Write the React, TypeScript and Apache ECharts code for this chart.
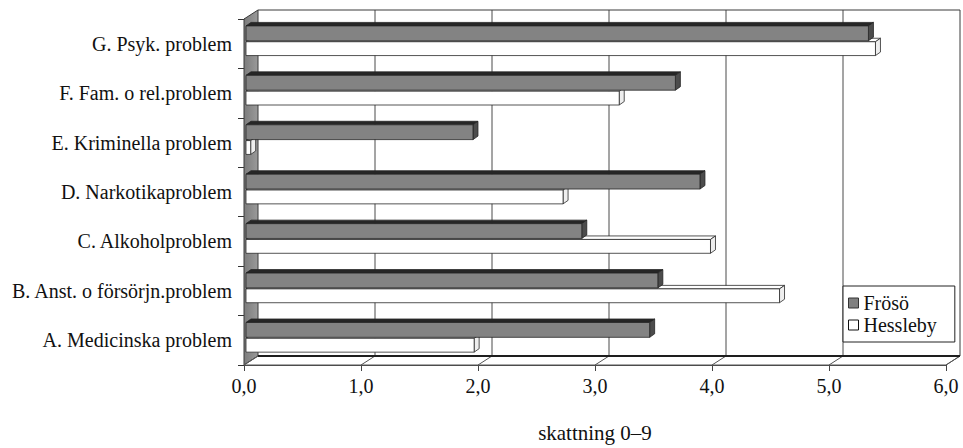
import { useEffect, useRef } from "react";
import * as echarts from "echarts";

// Problem areas, bottom to top
const categories = [
  "A. Medicinska problem",
  "B. Anst. o försörjn.problem",
  "C. Alkoholproblem",
  "D. Narkotikaproblem",
  "E. Kriminella problem",
  "F. Fam. o rel.problem",
  "G. Psyk. problem",
];
const frosoValues = [3.45, 3.52, 2.87, 3.88, 1.94, 3.67, 5.32];
const hesslebyValues = [1.95, 4.56, 3.97, 2.71, 0.04, 3.19, 5.38];
const xTicks = [0, 1, 2, 3, 4, 5, 6];
const xAxisTitle = "skattning 0–9";
const seriesNames = ["Frösö", "Hessleby"];

const FONT = "Liberation Serif";
// projection of the chart's depth (front plane -> back wall)
const DX = 14;
const DY = -9;
// projection of a single bar's depth
const BDX = 5;
const BDY = -3.5;

const frameRenderer = (params: any, api: any) => {
  const cs = params.coordSys;
  const L = cs.x;
  const T = cs.y;
  const R = cs.x + cs.width;
  const B = cs.y + cs.height;
  const children: any[] = [];
  // back wall
  children.push({
    type: "rect",
    shape: { x: L + DX, y: T + DY, width: R - L, height: B - T },
    style: { fill: "#ffffff" },
  });
  // vertical gridlines on the back wall
  xTicks.slice(1, -1).forEach((t) => {
    const x = api.coord([t, 0])[0] + DX;
    children.push({
      type: "line",
      shape: { x1: x, y1: T + DY, x2: x, y2: B + DY },
      style: { stroke: "#4a4a4a", lineWidth: 1 },
    });
  });
  children.push({
    type: "polyline",
    shape: { points: [[L + DX, T + DY], [R + DX, T + DY], [R + DX, B + DY]] },
    style: { stroke: "#3a3a3a", lineWidth: 1, fill: "none" },
  });
  // left side wall
  children.push({
    type: "polygon",
    shape: { points: [[L, T], [L + DX, T + DY], [L + DX, B + DY], [L, B]] },
    style: {
      fill: new echarts.graphic.LinearGradient(0, 0, 1, 0, [
        { offset: 0, color: "#7c7c7c" },
        { offset: 1, color: "#9a9a9a" },
      ]),
      stroke: "#3a3a3a",
      lineWidth: 1,
    },
  });
  // floor
  children.push({
    type: "polygon",
    shape: { points: [[L, B], [L + DX, B + DY], [R + DX, B + DY], [R, B]] },
    style: { fill: "#ffffff", stroke: "#555555", lineWidth: 1 },
  });
  xTicks.forEach((t) => {
    const x = api.coord([t, 0])[0];
    children.push({
      type: "line",
      shape: { x1: x, y1: B, x2: x + DX, y2: B + DY },
      style: { stroke: "#555555", lineWidth: 1 },
    });
  });
  children.push({
    type: "line",
    shape: { x1: L + DX, y1: B + DY, x2: R + DX, y2: B + DY },
    style: { stroke: "#1e1e1e", lineWidth: 2 },
  });
  return { type: "group", children };
};

const barRenderer =
  (upper: boolean, face: string, top: string, side: string, stroke: string) =>
  (params: any, api: any) => {
    const v = api.value(0);
    const cat = api.value(1);
    const base = api.coord([0, cat]);
    const end = api.coord([v, cat]);
    const band = api.size([0, 1])[1];
    const c = base[1];
    const y0 = upper ? c - band * 0.36 : c - band * 0.04;
    const y1 = upper ? c - band * 0.06 : c + band * 0.24;
    const x0 = base[0] + 2;
    const x1 = end[0] + 2;
    return {
      type: "group",
      children: [
        {
          type: "polygon",
          shape: { points: [[x0, y0], [x1, y0], [x1 + BDX, y0 + BDY], [x0 + BDX, y0 + BDY]] },
          style: { fill: top, stroke, lineWidth: 0.8 },
        },
        {
          type: "polygon",
          shape: { points: [[x1, y0], [x1 + BDX, y0 + BDY], [x1 + BDX, y1 + BDY], [x1, y1]] },
          style: { fill: side, stroke, lineWidth: 0.8 },
        },
        {
          type: "rect",
          shape: { x: x0, y: y0, width: x1 - x0, height: y1 - y0 },
          style: { fill: face, stroke, lineWidth: 0.8 },
        },
      ],
    };
  };

export default function App() {
  const ref = useRef<HTMLDivElement>(null);

  useEffect(() => {
    if (!ref.current) return;
    const chart = echarts.init(ref.current, undefined, { renderer: "svg" });
    chart.setOption({
      animation: false,
      backgroundColor: "#ffffff",
      textStyle: { fontFamily: FONT },
      grid: { left: 244, right: 17, top: 19, bottom: 77, containLabel: false },
      legend: {
        orient: "vertical",
        left: 843,
        top: 286,
        padding: [7, 18, 7, 5],
        itemWidth: 10,
        itemHeight: 10,
        itemGap: 2,
        backgroundColor: "#ffffff",
        borderColor: "#222222",
        borderWidth: 1,
        borderRadius: 0,
        selectedMode: false,
        textStyle: { fontFamily: FONT, fontSize: 20, color: "#111111" },
        data: [
          {
            name: seriesNames[0],
            icon: "rect",
            itemStyle: { color: "#808080", borderColor: "#333333", borderWidth: 1 },
          },
          {
            name: seriesNames[1],
            icon: "rect",
            itemStyle: { color: "#ffffff", borderColor: "#111111", borderWidth: 1 },
          },
        ],
      },
      xAxis: {
        type: "value",
        min: 0,
        max: 6,
        interval: 1,
        axisLine: { show: true, lineStyle: { color: "#444444", width: 1 } },
        axisTick: { show: true, length: 6, lineStyle: { color: "#444444" } },
        axisLabel: {
          fontFamily: FONT,
          fontSize: 20,
          color: "#111111",
          margin: 11,
          formatter: (v: number) => v.toFixed(1).replace(".", ","),
        },
        splitLine: { show: false },
        name: xAxisTitle,
        nameLocation: "middle",
        nameGap: 57,
        nameTextStyle: { fontFamily: FONT, fontSize: 21, color: "#111111" },
      },
      yAxis: {
        type: "category",
        data: categories,
        axisLine: { show: true, lineStyle: { color: "#333333", width: 1 } },
        axisTick: { show: true, length: 6, alignWithLabel: false, lineStyle: { color: "#333333" } },
        axisLabel: {
          fontFamily: FONT,
          fontSize: 20,
          color: "#111111",
          margin: 12,
          padding: [0, 0, 9, 0],
        },
        splitLine: { show: false },
      },
      series: [
        {
          type: "custom",
          name: "frame",
          silent: true,
          z: 1,
          data: [[0, 0]],
          encode: { x: 0, y: 1 },
          renderItem: frameRenderer,
        },
        {
          type: "custom",
          name: seriesNames[1],
          z: 2,
          itemStyle: { color: "#ffffff", borderColor: "#111111" },
          data: hesslebyValues.map((v, i) => [v, i]),
          encode: { x: 0, y: 1 },
          renderItem: barRenderer(false, "#ffffff", "#ffffff", "#eeeeee", "#2a2a2a"),
        },
        {
          type: "custom",
          name: seriesNames[0],
          z: 3,
          itemStyle: { color: "#808080", borderColor: "#333333" },
          data: frosoValues.map((v, i) => [v, i]),
          encode: { x: 0, y: 1 },
          renderItem: barRenderer(true, "#838383", "#262626", "#4c4c4c", "#242424"),
        },
      ],
    });
    return () => chart.dispose();
  }, []);

  return (
    <div
      ref={ref}
      style={{ position: "fixed", left: 0, top: 0, width: 963, height: 448 }}
    />
  );
}
